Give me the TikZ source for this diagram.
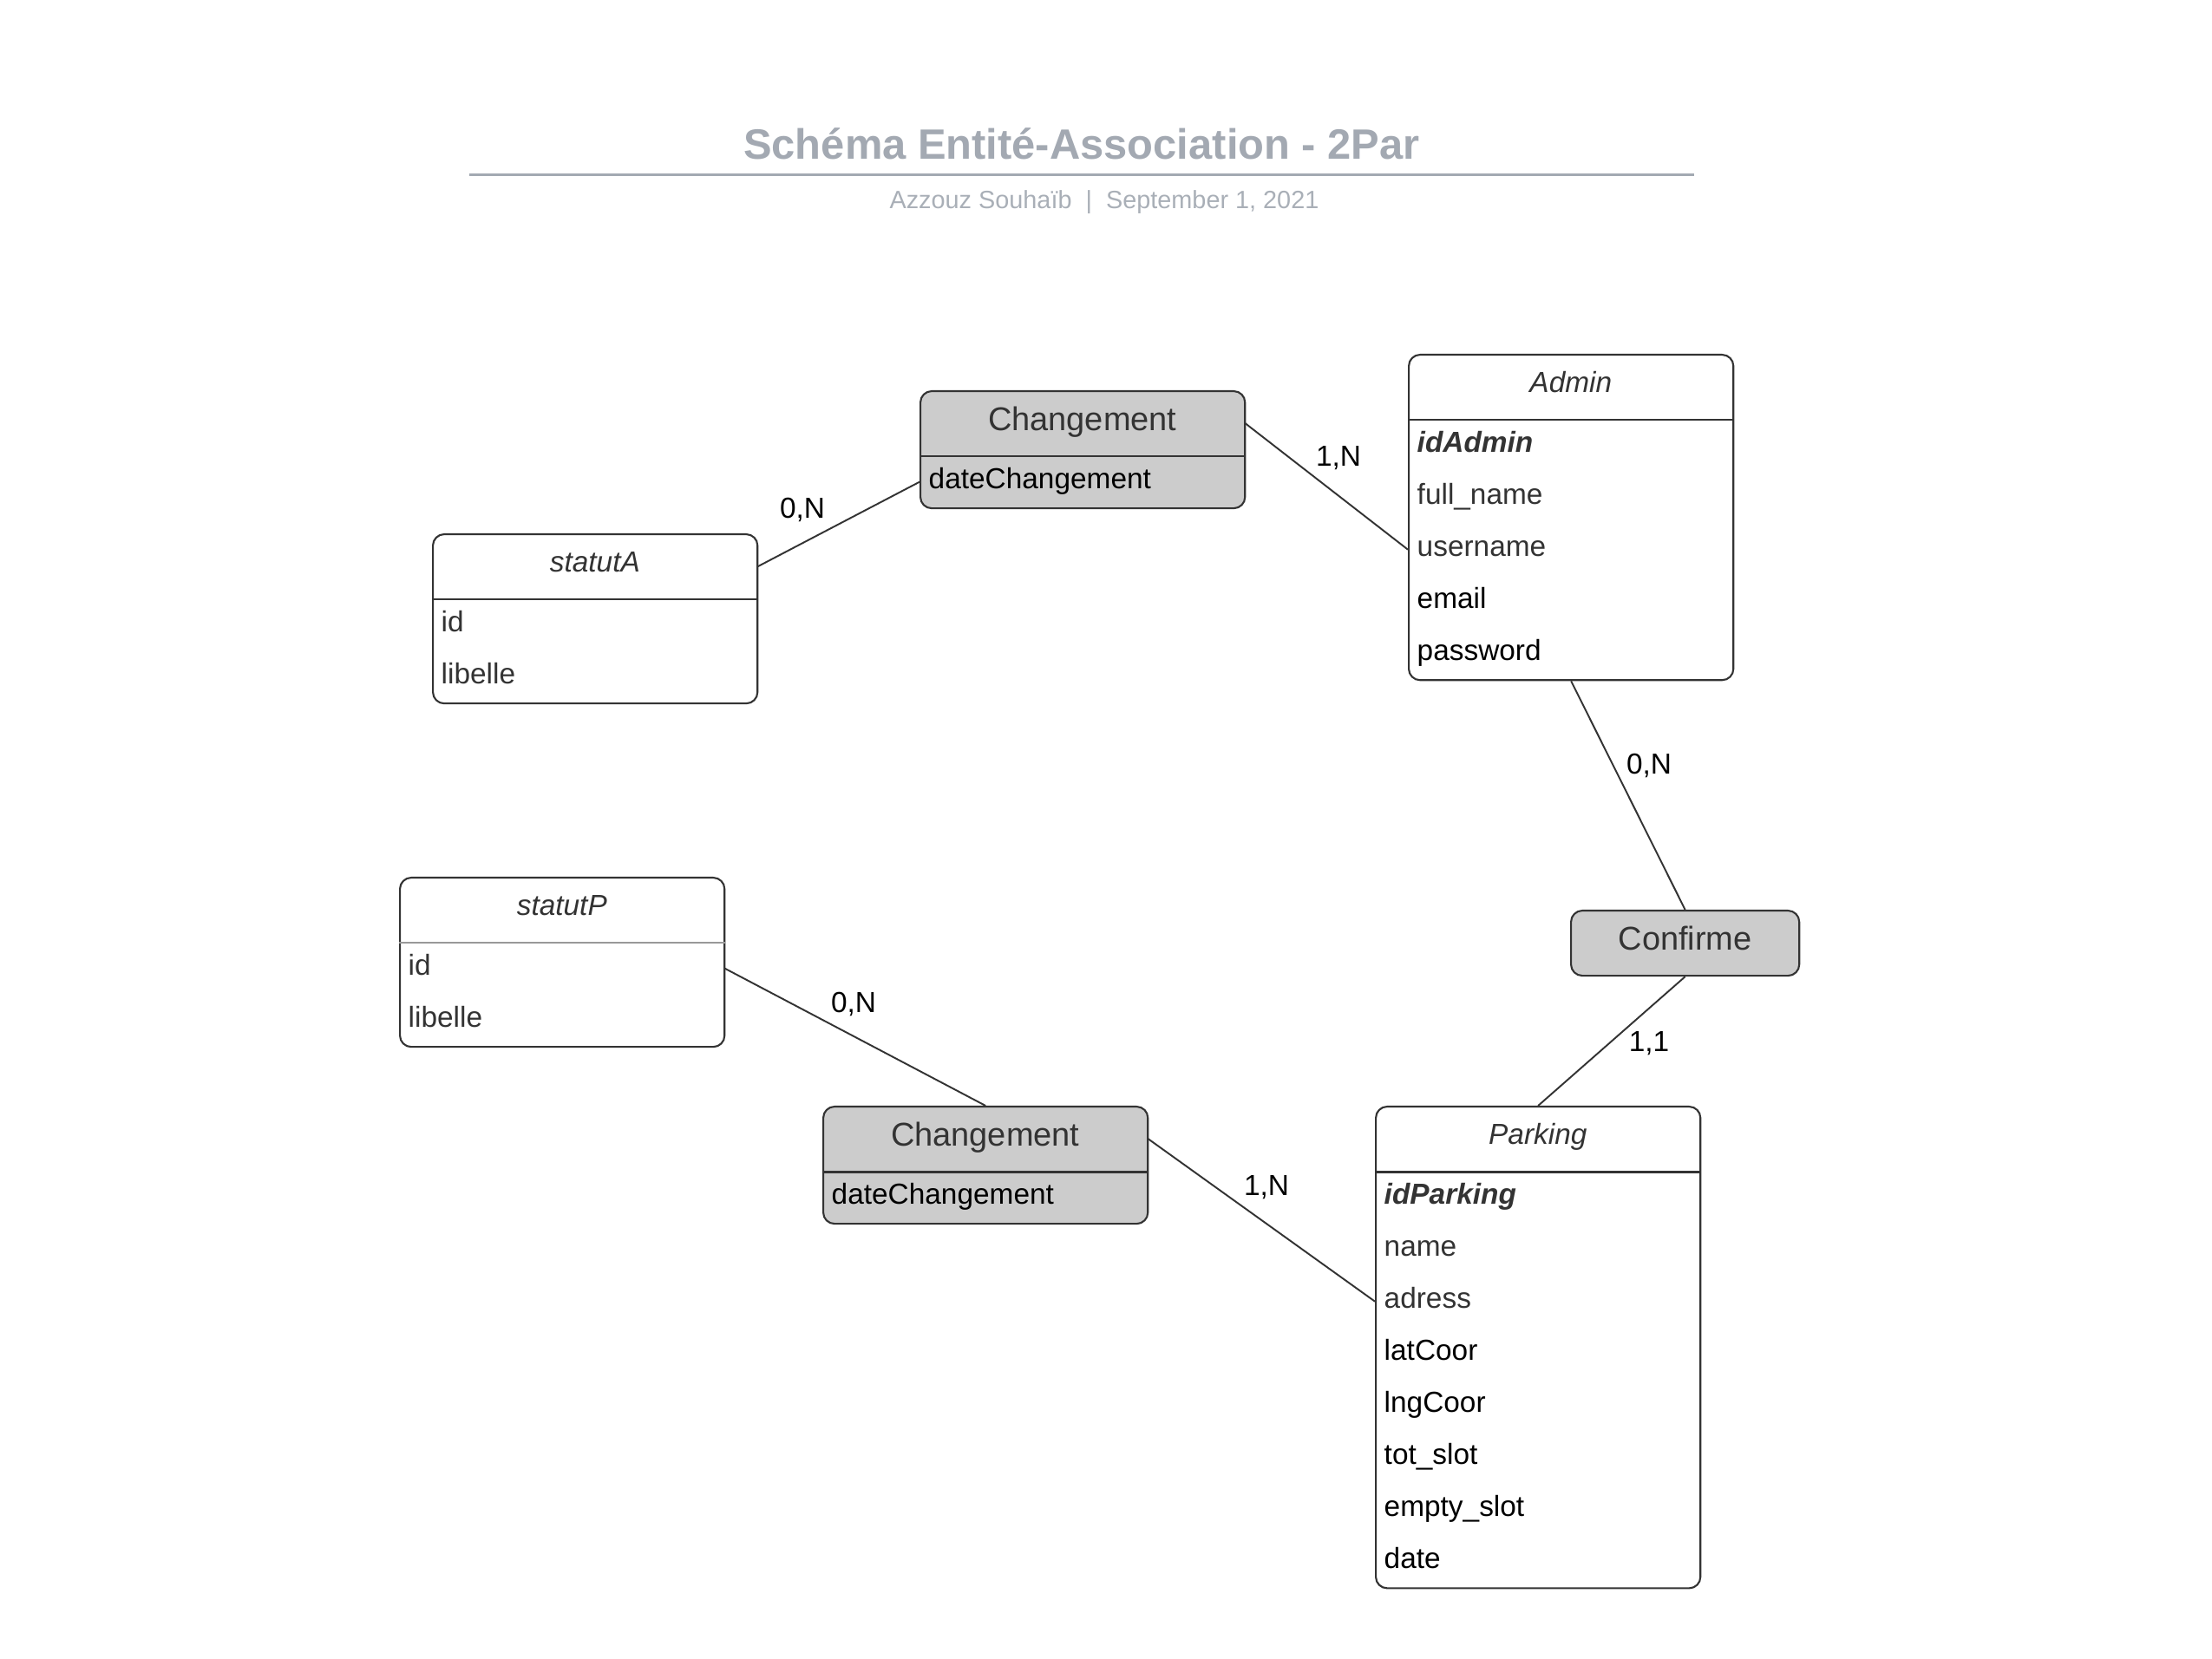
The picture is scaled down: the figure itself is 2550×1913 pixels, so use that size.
\documentclass[tikz,border=0pt]{standalone}
\usepackage{fontspec}
\setmainfont{Liberation Sans}
\usetikzlibrary{calc}
\definecolor{titlegrey}{HTML}{A3A9B2}
\definecolor{subgrey}{HTML}{A9AFB7}
\definecolor{darktext}{HTML}{333333}
\definecolor{boxline}{HTML}{333333}
\definecolor{assocfill}{HTML}{CCCCCC}
\newcommand{\entfont}{\fontsize{9.5pt}{11pt}\selectfont}
\newcommand{\assfont}{\fontsize{10.8pt}{13pt}\selectfont}
\tikzset{
  frame/.style={draw=boxline, line width=0.6pt, rounded corners=0.13cm, anchor=north west, minimum width=3.74cm, inner sep=0pt},
  entframe/.style={frame, fill=white},
  assframe/.style={frame, fill=assocfill},
  headbox/.style={anchor=north west, minimum width=3.74cm, minimum height=0.75cm, inner sep=0pt, text=darktext},
  enthead/.style={headbox, font=\entfont\itshape, text height=7pt, text depth=3.2pt},
  asshead/.style={headbox, font=\assfont, text height=8pt, text depth=3.3pt},
  attr/.style={anchor=north west, text width=3.54cm, align=left, minimum height=0.6cm, inner xsep=0.1cm, inner ysep=0pt, font=\entfont, text height=7pt, text depth=2.7pt},
  divider/.style={draw=boxline, line width=0.6pt},
  link/.style={draw=boxline, line width=0.55pt},
  card/.style={font=\entfont, text=black, inner sep=1pt}
}
\begin{document}
\begin{tikzpicture}[x=0.01cm, y=-0.01cm]
\useasboundingbox (0,0) rectangle (2550,1913);
% title
\node[font=\fontsize{13.9pt}{16pt}\selectfont\bfseries, text=titlegrey] (title) at (1247,166) {Schéma Entité-Association - 2Par};
\coordinate (tl) at (541,202);
\coordinate (tr) at (1953,202);
\draw[titlegrey, line width=0.85pt] (tl) -- (tr);
\node[font=\fontsize{8.2pt}{10pt}\selectfont, text=subgrey] (subtitle) at (1273,233) {Azzouz Souhaïb\ \ |\ \ September 1, 2021};

% Changement (top)
\node[assframe, minimum height=1.35cm] (chg1) at (1060,450) {};
\node[asshead] (chg1-h) at (1060,450) {Changement};
\draw[divider] (chg1-h.south west) -- (chg1-h.south east);
\node[attr, text=black] (chg1-a) at (1060,525) {dateChangement};

% Admin
\node[entframe, minimum height=3.75cm] (adm) at (1623,408) {};
\node[enthead] (adm-h) at (1623,408) {Admin};
\draw[divider] (adm-h.south west) -- (adm-h.south east);
\node[attr, text=darktext, font=\entfont\bfseries\itshape] (adm-1) at (1623,483) {idAdmin};
\node[attr, text=darktext] (adm-2) at (1623,543) {full\_name};
\node[attr, text=darktext] (adm-3) at (1623,603) {username};
\node[attr, text=black] (adm-4) at (1623,663) {email};
\node[attr, text=black] (adm-5) at (1623,723) {password};

% statutA
\node[entframe, minimum height=1.95cm] (sta) at (498,615) {};
\node[enthead] (sta-h) at (498,615) {statutA};
\draw[divider] (sta-h.south west) -- (sta-h.south east);
\node[attr, text=darktext] (sta-1) at (498,690) {id};
\node[attr, text=darktext] (sta-2) at (498,750) {libelle};

% statutP
\node[entframe, minimum height=1.95cm] (stp) at (460,1011) {};
\node[enthead] (stp-h) at (460,1011) {statutP};
\draw[divider, draw=boxline!50] (stp-h.south west) -- (stp-h.south east);
\node[attr, text=darktext] (stp-1) at (460,1086) {id};
\node[attr, text=darktext] (stp-2) at (460,1146) {libelle};

% Changement (bottom)
\node[assframe, minimum height=1.35cm] (chg2) at (948,1275) {};
\node[asshead] (chg2-h) at (948,1275) {Changement};
\draw[divider] (chg2-h.south west) -- (chg2-h.south east);
\node[attr, text=black] (chg2-a) at (948,1350) {dateChangement};

% Confirme
\node[assframe, minimum width=2.63cm, minimum height=0.75cm, font=\assfont, text=darktext, text height=8pt, text depth=3.3pt] (conf) at (1810,1049) {Confirme};

% Parking
\node[entframe, minimum height=5.55cm] (park) at (1585,1275) {};
\node[enthead] (park-h) at (1585,1275) {Parking};
\draw[divider] (park-h.south west) -- (park-h.south east);
\node[attr, text=darktext, font=\entfont\bfseries\itshape] (park-1) at (1585,1350) {idParking};
\node[attr, text=darktext] (park-2) at (1585,1410) {name};
\node[attr, text=darktext] (park-3) at (1585,1470) {adress};
\node[attr, text=black] (park-4) at (1585,1530) {latCoor};
\node[attr, text=black] (park-5) at (1585,1590) {lngCoor};
\node[attr, text=black] (park-6) at (1585,1650) {tot\_slot};
\node[attr, text=black] (park-7) at (1585,1710) {empty\_slot};
\node[attr, text=black] (park-8) at (1585,1770) {date};

% connectors
\draw[link] (sta-h.east) -- (chg1-a.west);
\draw[link] (chg1-h.east) -- (adm-3.west);
\draw[link] (adm.south) -- (conf.north);
\draw[link] (conf.south) -- (park.north);
\draw[link] (stp-1.east) -- (chg2.north);
\draw[link] (chg2-h.east) -- (park-3.west);

% cardinalities
\node[card] (c1) at (925,588) {0,N};
\node[card] (c2) at (1543,528) {1,N};
\node[card] (c3) at (1901,883) {0,N};
\node[card] (c4) at (1901,1203) {1,1};
\node[card] (c5) at (984,1158) {0,N};
\node[card] (c6) at (1460,1369) {1,N};
\end{tikzpicture}
\end{document}
